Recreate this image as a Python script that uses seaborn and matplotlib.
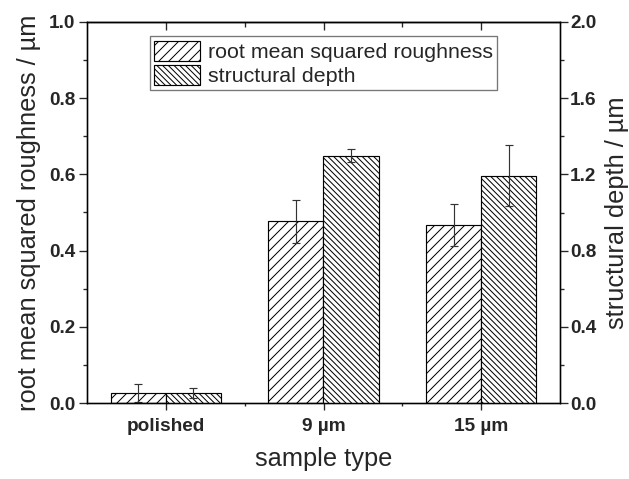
import matplotlib
matplotlib.use("Agg")
import matplotlib.pyplot as plt
import seaborn as sns
import pandas as pd
from matplotlib.patches import Patch
from matplotlib.ticker import MultipleLocator

categories = ["polished", "9 µm", "15 µm"]
rms = [0.027, 0.477, 0.467]
rms_err = [0.024, 0.057, 0.054]
depth = [0.054, 1.297, 1.194]
depth_err = [0.027, 0.034, 0.161]
series = ["root mean squared roughness", "structural depth"]

HATCH_RMS = "/" * 4
HATCH_SD = "\\" * 7

sns.set_theme(style="ticks")
plt.rcParams["font.family"] = ["Liberation Sans", "DejaVu Sans"]
plt.rcParams["hatch.linewidth"] = 0.6
plt.rcParams["hatch.color"] = "black"

df_rms = pd.DataFrame({"sample": categories, "value": rms, "series": series[0]})
df_sd = pd.DataFrame({"sample": categories, "value": depth, "series": series[1]})

DPI = 120
fig = plt.figure(figsize=(629 / DPI, 479 / DPI), dpi=DPI)
ax = fig.add_axes([87 / 629, 1 - 403 / 479, (560 - 87) / 629, (403 - 22) / 479])
ax2 = ax.twinx()

pal = {series[0]: "white", series[1]: "white"}
sns.barplot(data=df_rms, x="sample", y="value", hue="series", hue_order=series,
            order=categories, palette=pal, saturation=1, width=0.7, dodge=True,
            errorbar=None, edgecolor="black", linewidth=0.7, hatch=HATCH_RMS,
            legend=False, ax=ax)
sns.barplot(data=df_sd, x="sample", y="value", hue="series", hue_order=series,
            order=categories, palette=pal, saturation=1, width=0.7, dodge=True,
            errorbar=None, edgecolor="black", linewidth=0.7, hatch=HATCH_SD,
            legend=False, ax=ax2)

ex1 = [p.get_x() + p.get_width() / 2 for p in ax.patches]
ex2 = [p.get_x() + p.get_width() / 2 for p in ax2.patches]
ax.errorbar(ex1, rms, yerr=rms_err, fmt="none", ecolor="#333333", elinewidth=0.7,
            capsize=2.4, capthick=0.7)
ax2.errorbar(ex2, depth, yerr=depth_err, fmt="none", ecolor="#333333", elinewidth=0.7,
             capsize=2.4, capthick=0.7)

ax.set_xlim(-0.5, 2.5)
ax.set_ylim(0, 1.0)
ax2.set_ylim(0, 2.0)
ax.yaxis.set_major_locator(MultipleLocator(0.2))
ax.yaxis.set_minor_locator(MultipleLocator(0.1))
ax2.yaxis.set_major_locator(MultipleLocator(0.4))
ax2.yaxis.set_minor_locator(MultipleLocator(0.2))
ax.set_xticks([0.5, 1.5], minor=True)

tick_fs = 11.4
lab_fs = 15.2
ax.set_xlabel("sample type", fontsize=lab_fs, labelpad=7)
ax.set_ylabel("root mean squared roughness / µm", fontsize=lab_fs, labelpad=5)
ax2.set_ylabel("structural depth / µm", fontsize=lab_fs, labelpad=5)

for a in (ax, ax2):
    for s in a.spines.values():
        s.set_visible(True)
        s.set_linewidth(0.8)
        s.set_color("black")

ax.tick_params(axis="y", which="major", direction="out", length=5, width=0.8, pad=2,
               labelsize=tick_fs)
ax.tick_params(axis="y", which="minor", direction="out", length=2.5, width=0.8)
ax2.tick_params(axis="y", which="major", direction="out", length=4.5, width=0.8, pad=1.5,
                labelsize=tick_fs)
ax2.tick_params(axis="y", which="minor", direction="out", length=2.5, width=0.8)
ax.tick_params(axis="x", which="major", direction="out", length=4, width=0.8, pad=5,
               labelsize=tick_fs)
ax.tick_params(axis="x", which="minor", direction="out", length=2, width=0.8)
for lbl in ax.get_xticklabels() + ax.get_yticklabels() + ax2.get_yticklabels():
    lbl.set_fontweight("bold")

top = ax.secondary_xaxis("top")
top.set_xticks([0, 1, 2])
top.set_xticks([0.5, 1.5], minor=True)
top.set_xticklabels([])
top.tick_params(axis="x", which="major", direction="in", length=5, width=0.8)
top.tick_params(axis="x", which="minor", direction="in", length=3, width=0.8)
top.spines["top"].set_linewidth(0.8)

handles = [Patch(facecolor="white", edgecolor="black", hatch=HATCH_RMS, linewidth=0.7, label=series[0]),
           Patch(facecolor="white", edgecolor="black", hatch=HATCH_SD, linewidth=0.7, label=series[1])]
leg = ax.legend(handles=handles, loc="upper center", bbox_to_anchor=(0.5, 0.962),
                borderaxespad=0, fontsize=12.8, frameon=True, fancybox=False,
                handlelength=2.15, handleheight=1.08, labelspacing=0.12,
                handletextpad=0.4, borderpad=0.2)
leg.get_frame().set_edgecolor("#555555")
leg.get_frame().set_linewidth(0.8)

fig.savefig("out.png", dpi=DPI)
